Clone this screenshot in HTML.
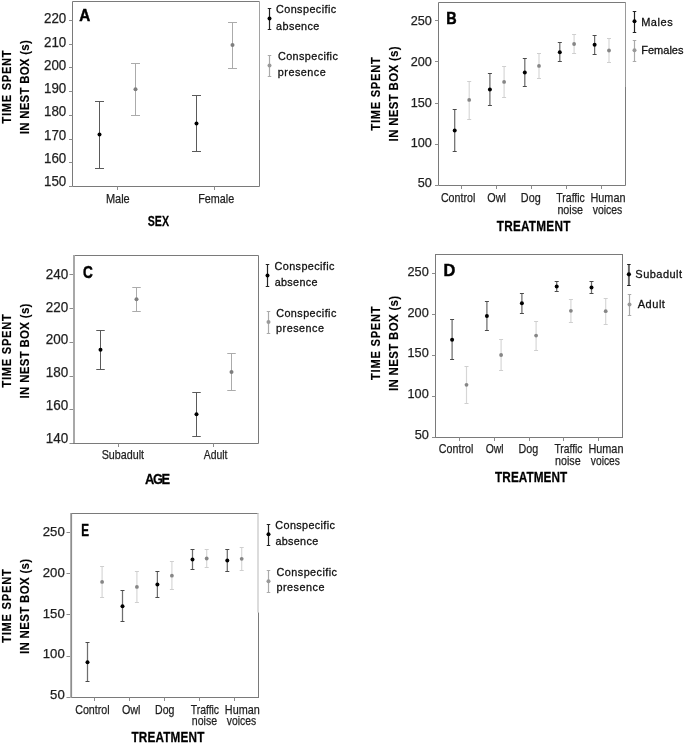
<!DOCTYPE html>
<html><head><meta charset="utf-8"><style>
html,body{margin:0;padding:0;background:#fff;}
svg{display:block;will-change:transform;}
text{font-family:"Liberation Sans", sans-serif;}

</style></head><body>
<svg width="685" height="744" viewBox="0 0 685 744">
<rect x="0" y="0" width="685" height="744" fill="#fff"/>
<polyline points="259.5,100 259.5,186.5 72.5,186.5 72.5,1.5 259.5,1.5" fill="none" stroke="#7a7a7a" stroke-width="1"/>
<line x1="259.50" y1="1.50" x2="259.50" y2="100.00" stroke="#a2a2a2" stroke-width="1"/>
<line x1="69.00" y1="186.50" x2="72.50" y2="186.50" stroke="#8c8c8c" stroke-width="1"/>
<line x1="69.00" y1="162.50" x2="72.50" y2="162.50" stroke="#8c8c8c" stroke-width="1"/>
<line x1="69.00" y1="139.50" x2="72.50" y2="139.50" stroke="#8c8c8c" stroke-width="1"/>
<line x1="69.00" y1="115.50" x2="72.50" y2="115.50" stroke="#8c8c8c" stroke-width="1"/>
<line x1="69.00" y1="91.50" x2="72.50" y2="91.50" stroke="#8c8c8c" stroke-width="1"/>
<line x1="69.00" y1="67.50" x2="72.50" y2="67.50" stroke="#8c8c8c" stroke-width="1"/>
<line x1="69.00" y1="44.50" x2="72.50" y2="44.50" stroke="#8c8c8c" stroke-width="1"/>
<line x1="69.00" y1="20.50" x2="72.50" y2="20.50" stroke="#8c8c8c" stroke-width="1"/>
<text x="44.03" y="23.40" font-size="14.0" fill="#1e1e1e" stroke="#1e1e1e" stroke-width="0.25" textLength="22.28" lengthAdjust="spacingAndGlyphs">220</text>
<text x="44.03" y="46.80" font-size="14.0" fill="#1e1e1e" stroke="#1e1e1e" stroke-width="0.25" textLength="22.28" lengthAdjust="spacingAndGlyphs">210</text>
<text x="44.03" y="70.10" font-size="14.0" fill="#1e1e1e" stroke="#1e1e1e" stroke-width="0.25" textLength="22.28" lengthAdjust="spacingAndGlyphs">200</text>
<text x="44.03" y="93.30" font-size="14.0" fill="#1e1e1e" stroke="#1e1e1e" stroke-width="0.25" textLength="22.28" lengthAdjust="spacingAndGlyphs">190</text>
<text x="44.03" y="116.40" font-size="14.0" fill="#1e1e1e" stroke="#1e1e1e" stroke-width="0.25" textLength="22.28" lengthAdjust="spacingAndGlyphs">180</text>
<text x="44.03" y="139.60" font-size="14.0" fill="#1e1e1e" stroke="#1e1e1e" stroke-width="0.25" textLength="22.28" lengthAdjust="spacingAndGlyphs">170</text>
<text x="44.03" y="162.90" font-size="14.0" fill="#1e1e1e" stroke="#1e1e1e" stroke-width="0.25" textLength="22.28" lengthAdjust="spacingAndGlyphs">160</text>
<text x="44.03" y="185.70" font-size="14.0" fill="#1e1e1e" stroke="#1e1e1e" stroke-width="0.25" textLength="22.28" lengthAdjust="spacingAndGlyphs">150</text>
<line x1="117.50" y1="186.50" x2="117.50" y2="190.00" stroke="#8c8c8c" stroke-width="1"/>
<line x1="214.50" y1="186.50" x2="214.50" y2="190.00" stroke="#8c8c8c" stroke-width="1"/>
<text x="105.92" y="202.50" font-size="12.6" font-weight="normal" fill="#1e1e1e" stroke="#1e1e1e" stroke-width="0.25" textLength="23.82" lengthAdjust="spacingAndGlyphs">Male</text>
<text x="198.13" y="202.50" font-size="12.6" font-weight="normal" fill="#1e1e1e" stroke="#1e1e1e" stroke-width="0.25" textLength="36.02" lengthAdjust="spacingAndGlyphs">Female</text>
<text transform="scale(0.76,1)" x="194.48" y="225.90" font-size="14.0" font-weight="bold" fill="#000" stroke="#000" stroke-width="0.25" textLength="27.97" lengthAdjust="spacing">SEX</text>
<text x="79.17" y="20.50" font-size="17.4" font-weight="bold" fill="#000" stroke="#000" stroke-width="0.5" textLength="10.99" lengthAdjust="spacingAndGlyphs">A</text>
<text transform="translate(10.50,0) rotate(-90) scale(0.86,1)" x="-143.76" y="0" font-size="13.0" font-weight="bold" fill="#000" stroke="#000" stroke-width="0.15" textLength="85.21" lengthAdjust="spacing">TIME SPENT</text>
<text transform="translate(28.50,0) rotate(-90) scale(0.86,1)" x="-156.16" y="0" font-size="13.3" font-weight="bold" fill="#000" stroke="#000" stroke-width="0.15" textLength="109.29" lengthAdjust="spacing">IN NEST BOX (s)</text>
<line x1="99.50" y1="101.50" x2="99.50" y2="168.50" stroke="#5a5a5a" stroke-width="1"/>
<line x1="95.00" y1="101.50" x2="104.00" y2="101.50" stroke="#5a5a5a" stroke-width="1"/>
<line x1="95.00" y1="168.50" x2="104.00" y2="168.50" stroke="#5a5a5a" stroke-width="1"/>
<circle cx="99.50" cy="134.50" r="2.0" fill="#000"/>
<line x1="196.50" y1="95.50" x2="196.50" y2="151.50" stroke="#5a5a5a" stroke-width="1"/>
<line x1="192.00" y1="95.50" x2="201.00" y2="95.50" stroke="#5a5a5a" stroke-width="1"/>
<line x1="192.00" y1="151.50" x2="201.00" y2="151.50" stroke="#5a5a5a" stroke-width="1"/>
<circle cx="196.50" cy="123.40" r="2.0" fill="#000"/>
<line x1="135.50" y1="63.50" x2="135.50" y2="115.50" stroke="#ababab" stroke-width="1"/>
<line x1="131.00" y1="63.50" x2="140.00" y2="63.50" stroke="#ababab" stroke-width="1"/>
<line x1="131.00" y1="115.50" x2="140.00" y2="115.50" stroke="#ababab" stroke-width="1"/>
<circle cx="135.50" cy="89.30" r="2.0" fill="#7e7e7e"/>
<line x1="232.50" y1="22.50" x2="232.50" y2="68.50" stroke="#ababab" stroke-width="1"/>
<line x1="228.00" y1="22.50" x2="237.00" y2="22.50" stroke="#ababab" stroke-width="1"/>
<line x1="228.00" y1="68.50" x2="237.00" y2="68.50" stroke="#ababab" stroke-width="1"/>
<circle cx="232.50" cy="45.10" r="2.0" fill="#7e7e7e"/>
<line x1="269.50" y1="8.50" x2="269.50" y2="29.50" stroke="#222" stroke-width="1.2"/>
<line x1="267.75" y1="8.50" x2="271.25" y2="8.50" stroke="#222" stroke-width="1"/>
<line x1="267.75" y1="29.50" x2="271.25" y2="29.50" stroke="#222" stroke-width="1"/>
<circle cx="269.50" cy="18.60" r="2.0" fill="#000"/>
<text transform="scale(0.95,1)" x="290.54" y="13.30" font-size="11.4" font-weight="normal" fill="#111" stroke="#111" stroke-width="0.3" textLength="63.29" lengthAdjust="spacing">Conspecific</text>
<text transform="scale(0.95,1)" x="290.62" y="29.60" font-size="11.4" font-weight="normal" fill="#111" stroke="#111" stroke-width="0.3" textLength="45.51" lengthAdjust="spacing">absence</text>
<line x1="269.50" y1="55.50" x2="269.50" y2="76.50" stroke="#aaa" stroke-width="1.2"/>
<line x1="267.75" y1="55.50" x2="271.25" y2="55.50" stroke="#aaa" stroke-width="1"/>
<line x1="267.75" y1="76.50" x2="271.25" y2="76.50" stroke="#aaa" stroke-width="1"/>
<circle cx="269.50" cy="65.40" r="2.0" fill="#999"/>
<text transform="scale(0.95,1)" x="292.64" y="59.90" font-size="11.4" font-weight="normal" fill="#111" stroke="#111" stroke-width="0.3" textLength="62.98" lengthAdjust="spacing">Conspecific</text>
<text transform="scale(0.95,1)" x="292.47" y="76.00" font-size="11.4" font-weight="normal" fill="#111" stroke="#111" stroke-width="0.3" textLength="50.40" lengthAdjust="spacing">presence</text>
<polyline points="625.5,87 625.5,185.5 438.5,185.5 438.5,2.5 625.5,2.5 625.5,87" fill="none" stroke="#7a7a7a" stroke-width="1"/>
<line x1="625.50" y1="2.50" x2="625.50" y2="87.00" stroke="#9a9a9a" stroke-width="1"/>
<line x1="435.00" y1="185.50" x2="438.50" y2="185.50" stroke="#8c8c8c" stroke-width="1"/>
<line x1="435.00" y1="144.50" x2="438.50" y2="144.50" stroke="#8c8c8c" stroke-width="1"/>
<line x1="435.00" y1="103.50" x2="438.50" y2="103.50" stroke="#8c8c8c" stroke-width="1"/>
<line x1="435.00" y1="61.50" x2="438.50" y2="61.50" stroke="#8c8c8c" stroke-width="1"/>
<line x1="435.00" y1="20.50" x2="438.50" y2="20.50" stroke="#8c8c8c" stroke-width="1"/>
<text x="410.67" y="24.70" font-size="13.0" fill="#1e1e1e" stroke="#1e1e1e" stroke-width="0.25" textLength="21.12" lengthAdjust="spacingAndGlyphs">250</text>
<text x="410.67" y="65.80" font-size="13.0" fill="#1e1e1e" stroke="#1e1e1e" stroke-width="0.25" textLength="21.12" lengthAdjust="spacingAndGlyphs">200</text>
<text x="410.67" y="106.60" font-size="13.0" fill="#1e1e1e" stroke="#1e1e1e" stroke-width="0.25" textLength="21.12" lengthAdjust="spacingAndGlyphs">150</text>
<text x="410.67" y="147.00" font-size="13.0" fill="#1e1e1e" stroke="#1e1e1e" stroke-width="0.25" textLength="21.12" lengthAdjust="spacingAndGlyphs">100</text>
<text x="417.72" y="187.40" font-size="13.0" fill="#1e1e1e" stroke="#1e1e1e" stroke-width="0.25" textLength="14.08" lengthAdjust="spacingAndGlyphs">50</text>
<line x1="461.50" y1="185.50" x2="461.50" y2="189.00" stroke="#8c8c8c" stroke-width="1"/>
<line x1="496.50" y1="185.50" x2="496.50" y2="189.00" stroke="#8c8c8c" stroke-width="1"/>
<line x1="531.50" y1="185.50" x2="531.50" y2="189.00" stroke="#8c8c8c" stroke-width="1"/>
<line x1="566.50" y1="185.50" x2="566.50" y2="189.00" stroke="#8c8c8c" stroke-width="1"/>
<line x1="601.50" y1="185.50" x2="601.50" y2="189.00" stroke="#8c8c8c" stroke-width="1"/>
<text x="440.89" y="202.40" font-size="12.6" font-weight="normal" fill="#1e1e1e" stroke="#1e1e1e" stroke-width="0.25" textLength="34.39" lengthAdjust="spacingAndGlyphs">Control</text>
<text x="487.31" y="202.40" font-size="12.6" font-weight="normal" fill="#1e1e1e" stroke="#1e1e1e" stroke-width="0.25" textLength="18.59" lengthAdjust="spacingAndGlyphs">Owl</text>
<text x="520.83" y="202.40" font-size="12.6" font-weight="normal" fill="#1e1e1e" stroke="#1e1e1e" stroke-width="0.25" textLength="19.84" lengthAdjust="spacingAndGlyphs">Dog</text>
<text x="556.29" y="202.00" font-size="12.6" font-weight="normal" fill="#1e1e1e" stroke="#1e1e1e" stroke-width="0.25" textLength="28.58" lengthAdjust="spacingAndGlyphs">Traffic</text>
<text x="557.40" y="213.50" font-size="12.6" font-weight="normal" fill="#1e1e1e" stroke="#1e1e1e" stroke-width="0.25" textLength="25.64" lengthAdjust="spacingAndGlyphs">noise</text>
<text x="590.53" y="202.00" font-size="12.6" font-weight="normal" fill="#1e1e1e" stroke="#1e1e1e" stroke-width="0.25" textLength="34.93" lengthAdjust="spacingAndGlyphs">Human</text>
<text x="592.70" y="213.50" font-size="12.6" font-weight="normal" fill="#1e1e1e" stroke="#1e1e1e" stroke-width="0.25" textLength="29.54" lengthAdjust="spacingAndGlyphs">voices</text>
<text transform="scale(0.84,1)" x="591.32" y="230.90" font-size="14.0" font-weight="bold" fill="#000" stroke="#000" stroke-width="0.25" textLength="87.63" lengthAdjust="spacing">TREATMENT</text>
<text x="446.18" y="24.10" font-size="17.4" font-weight="bold" fill="#000" stroke="#000" stroke-width="0.5" textLength="10.42" lengthAdjust="spacingAndGlyphs">B</text>
<text transform="translate(379.90,0) rotate(-90) scale(0.86,1)" x="-151.79" y="0" font-size="13.0" font-weight="bold" fill="#000" stroke="#000" stroke-width="0.15" textLength="85.21" lengthAdjust="spacing">TIME SPENT</text>
<text transform="translate(397.80,0) rotate(-90) scale(0.86,1)" x="-164.42" y="0" font-size="13.3" font-weight="bold" fill="#000" stroke="#000" stroke-width="0.15" textLength="110.46" lengthAdjust="spacing">IN NEST BOX (s)</text>
<line x1="454.70" y1="109.50" x2="454.70" y2="151.50" stroke="#6e6e6e" stroke-width="1.25"/>
<line x1="452.70" y1="109.50" x2="456.70" y2="109.50" stroke="#4a4a4a" stroke-width="1"/>
<line x1="452.70" y1="151.50" x2="456.70" y2="151.50" stroke="#4a4a4a" stroke-width="1"/>
<circle cx="454.70" cy="130.40" r="2.0" fill="#000"/>
<line x1="489.90" y1="73.50" x2="489.90" y2="105.50" stroke="#6e6e6e" stroke-width="1.25"/>
<line x1="487.90" y1="73.50" x2="491.90" y2="73.50" stroke="#4a4a4a" stroke-width="1"/>
<line x1="487.90" y1="105.50" x2="491.90" y2="105.50" stroke="#4a4a4a" stroke-width="1"/>
<circle cx="489.90" cy="89.60" r="2.0" fill="#000"/>
<line x1="524.80" y1="58.50" x2="524.80" y2="86.50" stroke="#6e6e6e" stroke-width="1.25"/>
<line x1="522.80" y1="58.50" x2="526.80" y2="58.50" stroke="#4a4a4a" stroke-width="1"/>
<line x1="522.80" y1="86.50" x2="526.80" y2="86.50" stroke="#4a4a4a" stroke-width="1"/>
<circle cx="524.80" cy="72.40" r="2.0" fill="#000"/>
<line x1="559.80" y1="42.50" x2="559.80" y2="61.50" stroke="#6e6e6e" stroke-width="1.25"/>
<line x1="557.80" y1="42.50" x2="561.80" y2="42.50" stroke="#4a4a4a" stroke-width="1"/>
<line x1="557.80" y1="61.50" x2="561.80" y2="61.50" stroke="#4a4a4a" stroke-width="1"/>
<circle cx="559.80" cy="52.20" r="2.0" fill="#000"/>
<line x1="594.60" y1="35.50" x2="594.60" y2="54.50" stroke="#6e6e6e" stroke-width="1.25"/>
<line x1="592.60" y1="35.50" x2="596.60" y2="35.50" stroke="#4a4a4a" stroke-width="1"/>
<line x1="592.60" y1="54.50" x2="596.60" y2="54.50" stroke="#4a4a4a" stroke-width="1"/>
<circle cx="594.60" cy="44.70" r="2.0" fill="#000"/>
<line x1="469.20" y1="81.50" x2="469.20" y2="119.50" stroke="#d6d6d6" stroke-width="1.15"/>
<line x1="467.20" y1="81.50" x2="471.20" y2="81.50" stroke="#cfcfcf" stroke-width="1"/>
<line x1="467.20" y1="119.50" x2="471.20" y2="119.50" stroke="#cfcfcf" stroke-width="1"/>
<circle cx="469.20" cy="99.90" r="1.9" fill="#868686"/>
<line x1="504.10" y1="66.50" x2="504.10" y2="97.50" stroke="#d6d6d6" stroke-width="1.15"/>
<line x1="502.10" y1="66.50" x2="506.10" y2="66.50" stroke="#cfcfcf" stroke-width="1"/>
<line x1="502.10" y1="97.50" x2="506.10" y2="97.50" stroke="#cfcfcf" stroke-width="1"/>
<circle cx="504.10" cy="81.90" r="1.9" fill="#868686"/>
<line x1="539.00" y1="53.50" x2="539.00" y2="78.50" stroke="#d6d6d6" stroke-width="1.15"/>
<line x1="537.00" y1="53.50" x2="541.00" y2="53.50" stroke="#cfcfcf" stroke-width="1"/>
<line x1="537.00" y1="78.50" x2="541.00" y2="78.50" stroke="#cfcfcf" stroke-width="1"/>
<circle cx="539.00" cy="65.90" r="1.9" fill="#868686"/>
<line x1="574.10" y1="34.50" x2="574.10" y2="53.50" stroke="#d6d6d6" stroke-width="1.15"/>
<line x1="572.10" y1="34.50" x2="576.10" y2="34.50" stroke="#cfcfcf" stroke-width="1"/>
<line x1="572.10" y1="53.50" x2="576.10" y2="53.50" stroke="#cfcfcf" stroke-width="1"/>
<circle cx="574.10" cy="44.00" r="1.9" fill="#868686"/>
<line x1="609.00" y1="38.50" x2="609.00" y2="62.50" stroke="#d6d6d6" stroke-width="1.15"/>
<line x1="607.00" y1="38.50" x2="611.00" y2="38.50" stroke="#cfcfcf" stroke-width="1"/>
<line x1="607.00" y1="62.50" x2="611.00" y2="62.50" stroke="#cfcfcf" stroke-width="1"/>
<circle cx="609.00" cy="50.50" r="1.9" fill="#868686"/>
<line x1="634.50" y1="11.50" x2="634.50" y2="32.50" stroke="#222" stroke-width="1.2"/>
<line x1="632.75" y1="11.50" x2="636.25" y2="11.50" stroke="#222" stroke-width="1"/>
<line x1="632.75" y1="32.50" x2="636.25" y2="32.50" stroke="#222" stroke-width="1"/>
<circle cx="634.50" cy="21.30" r="2.0" fill="#000"/>
<text transform="scale(0.95,1)" x="674.89" y="25.60" font-size="11.6" font-weight="normal" fill="#111" stroke="#111" stroke-width="0.3" textLength="33.15" lengthAdjust="spacing">Males</text>
<line x1="634.50" y1="40.50" x2="634.50" y2="61.50" stroke="#aaa" stroke-width="1.2"/>
<line x1="632.75" y1="40.50" x2="636.25" y2="40.50" stroke="#aaa" stroke-width="1"/>
<line x1="632.75" y1="61.50" x2="636.25" y2="61.50" stroke="#aaa" stroke-width="1"/>
<circle cx="634.50" cy="50.30" r="2.0" fill="#999"/>
<text transform="scale(0.95,1)" x="674.89" y="54.10" font-size="11.6" font-weight="normal" fill="#111" stroke="#111" stroke-width="0.3" textLength="44.62" lengthAdjust="spacing">Females</text>
<polyline points="73,255.5 258.5,255.5 258.5,443.5 73,443.5" fill="none" stroke="#7a7a7a" stroke-width="1"/>
<line x1="74.00" y1="255.00" x2="74.00" y2="443.00" stroke="#a8a8a8" stroke-width="2"/>
<line x1="69.50" y1="443.50" x2="73.00" y2="443.50" stroke="#8c8c8c" stroke-width="1"/>
<line x1="69.50" y1="409.50" x2="73.00" y2="409.50" stroke="#8c8c8c" stroke-width="1"/>
<line x1="69.50" y1="376.50" x2="73.00" y2="376.50" stroke="#8c8c8c" stroke-width="1"/>
<line x1="69.50" y1="342.50" x2="73.00" y2="342.50" stroke="#8c8c8c" stroke-width="1"/>
<line x1="69.50" y1="308.50" x2="73.00" y2="308.50" stroke="#8c8c8c" stroke-width="1"/>
<line x1="69.50" y1="274.50" x2="73.00" y2="274.50" stroke="#8c8c8c" stroke-width="1"/>
<text x="45.73" y="278.70" font-size="13.8" fill="#1e1e1e" stroke="#1e1e1e" stroke-width="0.25" textLength="22.49" lengthAdjust="spacingAndGlyphs">240</text>
<text x="45.73" y="311.60" font-size="13.8" fill="#1e1e1e" stroke="#1e1e1e" stroke-width="0.25" textLength="22.49" lengthAdjust="spacingAndGlyphs">220</text>
<text x="45.73" y="344.30" font-size="13.8" fill="#1e1e1e" stroke="#1e1e1e" stroke-width="0.25" textLength="22.49" lengthAdjust="spacingAndGlyphs">200</text>
<text x="45.73" y="377.40" font-size="13.8" fill="#1e1e1e" stroke="#1e1e1e" stroke-width="0.25" textLength="22.49" lengthAdjust="spacingAndGlyphs">180</text>
<text x="45.73" y="410.40" font-size="13.8" fill="#1e1e1e" stroke="#1e1e1e" stroke-width="0.25" textLength="22.49" lengthAdjust="spacingAndGlyphs">160</text>
<text x="45.73" y="443.30" font-size="13.8" fill="#1e1e1e" stroke="#1e1e1e" stroke-width="0.25" textLength="22.49" lengthAdjust="spacingAndGlyphs">140</text>
<line x1="118.50" y1="443.50" x2="118.50" y2="447.00" stroke="#8c8c8c" stroke-width="1"/>
<line x1="213.50" y1="443.50" x2="213.50" y2="447.00" stroke="#8c8c8c" stroke-width="1"/>
<text x="101.64" y="459.30" font-size="12.6" font-weight="normal" fill="#1e1e1e" stroke="#1e1e1e" stroke-width="0.25" textLength="42.42" lengthAdjust="spacingAndGlyphs">Subadult</text>
<text x="203.70" y="459.30" font-size="12.6" font-weight="normal" fill="#1e1e1e" stroke="#1e1e1e" stroke-width="0.25" textLength="23.75" lengthAdjust="spacingAndGlyphs">Adult</text>
<text transform="scale(0.92,1)" x="157.61" y="484.00" font-size="14.0" font-weight="bold" fill="#000" stroke="#000" stroke-width="0.25" textLength="27.37" lengthAdjust="spacing">AGE</text>
<text x="83.11" y="278.10" font-size="17.4" font-weight="bold" fill="#000" stroke="#000" stroke-width="0.5" textLength="9.81" lengthAdjust="spacingAndGlyphs">C</text>
<text transform="translate(10.50,0) rotate(-90) scale(0.86,1)" x="-450.62" y="0" font-size="13.0" font-weight="bold" fill="#000" stroke="#000" stroke-width="0.15" textLength="85.21" lengthAdjust="spacing">TIME SPENT</text>
<text transform="translate(28.50,0) rotate(-90) scale(0.86,1)" x="-463.37" y="0" font-size="13.3" font-weight="bold" fill="#000" stroke="#000" stroke-width="0.15" textLength="110.34" lengthAdjust="spacing">IN NEST BOX (s)</text>
<line x1="100.50" y1="330.50" x2="100.50" y2="369.50" stroke="#5a5a5a" stroke-width="1"/>
<line x1="96.25" y1="330.50" x2="104.75" y2="330.50" stroke="#5a5a5a" stroke-width="1"/>
<line x1="96.25" y1="369.50" x2="104.75" y2="369.50" stroke="#5a5a5a" stroke-width="1"/>
<circle cx="100.50" cy="349.80" r="2.0" fill="#000"/>
<line x1="196.50" y1="392.50" x2="196.50" y2="436.50" stroke="#5a5a5a" stroke-width="1"/>
<line x1="192.25" y1="392.50" x2="200.75" y2="392.50" stroke="#5a5a5a" stroke-width="1"/>
<line x1="192.25" y1="436.50" x2="200.75" y2="436.50" stroke="#5a5a5a" stroke-width="1"/>
<circle cx="196.50" cy="414.30" r="2.0" fill="#000"/>
<line x1="136.50" y1="287.50" x2="136.50" y2="311.50" stroke="#ababab" stroke-width="1"/>
<line x1="132.25" y1="287.50" x2="140.75" y2="287.50" stroke="#ababab" stroke-width="1"/>
<line x1="132.25" y1="311.50" x2="140.75" y2="311.50" stroke="#ababab" stroke-width="1"/>
<circle cx="136.50" cy="299.20" r="2.0" fill="#7e7e7e"/>
<line x1="231.50" y1="353.50" x2="231.50" y2="390.50" stroke="#ababab" stroke-width="1"/>
<line x1="227.25" y1="353.50" x2="235.75" y2="353.50" stroke="#ababab" stroke-width="1"/>
<line x1="227.25" y1="390.50" x2="235.75" y2="390.50" stroke="#ababab" stroke-width="1"/>
<circle cx="231.50" cy="372.00" r="2.0" fill="#7e7e7e"/>
<line x1="267.50" y1="264.50" x2="267.50" y2="286.50" stroke="#222" stroke-width="1.2"/>
<line x1="265.75" y1="264.50" x2="269.25" y2="264.50" stroke="#222" stroke-width="1"/>
<line x1="265.75" y1="286.50" x2="269.25" y2="286.50" stroke="#222" stroke-width="1"/>
<circle cx="267.50" cy="275.40" r="2.0" fill="#000"/>
<text transform="scale(0.95,1)" x="289.06" y="269.90" font-size="11.4" font-weight="normal" fill="#111" stroke="#111" stroke-width="0.3" textLength="62.87" lengthAdjust="spacing">Conspecific</text>
<text transform="scale(0.95,1)" x="289.15" y="286.00" font-size="11.4" font-weight="normal" fill="#111" stroke="#111" stroke-width="0.3" textLength="45.08" lengthAdjust="spacing">absence</text>
<line x1="268.50" y1="311.50" x2="268.50" y2="333.50" stroke="#aaa" stroke-width="1.2"/>
<line x1="266.75" y1="311.50" x2="270.25" y2="311.50" stroke="#aaa" stroke-width="1"/>
<line x1="266.75" y1="333.50" x2="270.25" y2="333.50" stroke="#aaa" stroke-width="1"/>
<circle cx="268.50" cy="322.00" r="2.0" fill="#999"/>
<text transform="scale(0.95,1)" x="290.75" y="316.60" font-size="11.4" font-weight="normal" fill="#111" stroke="#111" stroke-width="0.3" textLength="63.29" lengthAdjust="spacing">Conspecific</text>
<text transform="scale(0.95,1)" x="290.57" y="332.20" font-size="11.4" font-weight="normal" fill="#111" stroke="#111" stroke-width="0.3" textLength="50.50" lengthAdjust="spacing">presence</text>
<rect x="435.5" y="254.5" width="187" height="183" fill="none" stroke="#7a7a7a" stroke-width="1"/>
<line x1="432.00" y1="437.50" x2="435.50" y2="437.50" stroke="#8c8c8c" stroke-width="1"/>
<line x1="432.00" y1="396.50" x2="435.50" y2="396.50" stroke="#8c8c8c" stroke-width="1"/>
<line x1="432.00" y1="355.50" x2="435.50" y2="355.50" stroke="#8c8c8c" stroke-width="1"/>
<line x1="432.00" y1="314.50" x2="435.50" y2="314.50" stroke="#8c8c8c" stroke-width="1"/>
<line x1="432.00" y1="273.50" x2="435.50" y2="273.50" stroke="#8c8c8c" stroke-width="1"/>
<text x="407.56" y="275.90" font-size="12.8" fill="#1e1e1e" stroke="#1e1e1e" stroke-width="0.25" textLength="21.23" lengthAdjust="spacingAndGlyphs">250</text>
<text x="407.56" y="316.90" font-size="12.8" fill="#1e1e1e" stroke="#1e1e1e" stroke-width="0.25" textLength="21.23" lengthAdjust="spacingAndGlyphs">200</text>
<text x="407.56" y="357.40" font-size="12.8" fill="#1e1e1e" stroke="#1e1e1e" stroke-width="0.25" textLength="21.23" lengthAdjust="spacingAndGlyphs">150</text>
<text x="407.56" y="398.10" font-size="12.8" fill="#1e1e1e" stroke="#1e1e1e" stroke-width="0.25" textLength="21.23" lengthAdjust="spacingAndGlyphs">100</text>
<text x="414.66" y="439.00" font-size="12.8" fill="#1e1e1e" stroke="#1e1e1e" stroke-width="0.25" textLength="14.15" lengthAdjust="spacingAndGlyphs">50</text>
<line x1="459.50" y1="437.50" x2="459.50" y2="441.00" stroke="#8c8c8c" stroke-width="1"/>
<line x1="494.50" y1="437.50" x2="494.50" y2="441.00" stroke="#8c8c8c" stroke-width="1"/>
<line x1="529.50" y1="437.50" x2="529.50" y2="441.00" stroke="#8c8c8c" stroke-width="1"/>
<line x1="563.50" y1="437.50" x2="563.50" y2="441.00" stroke="#8c8c8c" stroke-width="1"/>
<line x1="598.50" y1="437.50" x2="598.50" y2="441.00" stroke="#8c8c8c" stroke-width="1"/>
<text x="438.79" y="453.40" font-size="12.6" font-weight="normal" fill="#1e1e1e" stroke="#1e1e1e" stroke-width="0.25" textLength="34.49" lengthAdjust="spacingAndGlyphs">Control</text>
<text x="485.73" y="453.20" font-size="12.6" font-weight="normal" fill="#1e1e1e" stroke="#1e1e1e" stroke-width="0.25" textLength="17.84" lengthAdjust="spacingAndGlyphs">Owl</text>
<text x="518.44" y="453.20" font-size="12.6" font-weight="normal" fill="#1e1e1e" stroke="#1e1e1e" stroke-width="0.25" textLength="19.73" lengthAdjust="spacingAndGlyphs">Dog</text>
<text x="554.39" y="453.20" font-size="12.6" font-weight="normal" fill="#1e1e1e" stroke="#1e1e1e" stroke-width="0.25" textLength="28.07" lengthAdjust="spacingAndGlyphs">Traffic</text>
<text x="555.00" y="464.50" font-size="12.6" font-weight="normal" fill="#1e1e1e" stroke="#1e1e1e" stroke-width="0.25" textLength="25.64" lengthAdjust="spacingAndGlyphs">noise</text>
<text x="588.43" y="453.20" font-size="12.6" font-weight="normal" fill="#1e1e1e" stroke="#1e1e1e" stroke-width="0.25" textLength="35.04" lengthAdjust="spacingAndGlyphs">Human</text>
<text x="590.80" y="464.50" font-size="12.6" font-weight="normal" fill="#1e1e1e" stroke="#1e1e1e" stroke-width="0.25" textLength="29.13" lengthAdjust="spacingAndGlyphs">voices</text>
<text transform="scale(0.84,1)" x="589.41" y="482.20" font-size="14.0" font-weight="bold" fill="#000" stroke="#000" stroke-width="0.25" textLength="85.84" lengthAdjust="spacing">TREATMENT</text>
<text x="443.55" y="276.20" font-size="17.4" font-weight="bold" fill="#000" stroke="#000" stroke-width="0.5" textLength="11.79" lengthAdjust="spacingAndGlyphs">D</text>
<text transform="translate(379.90,0) rotate(-90) scale(0.86,1)" x="-441.79" y="0" font-size="13.0" font-weight="bold" fill="#000" stroke="#000" stroke-width="0.15" textLength="85.56" lengthAdjust="spacing">TIME SPENT</text>
<text transform="translate(397.80,0) rotate(-90) scale(0.86,1)" x="-454.76" y="0" font-size="13.3" font-weight="bold" fill="#000" stroke="#000" stroke-width="0.15" textLength="110.69" lengthAdjust="spacing">IN NEST BOX (s)</text>
<line x1="452.10" y1="319.50" x2="452.10" y2="359.50" stroke="#6e6e6e" stroke-width="1.25"/>
<line x1="450.10" y1="319.50" x2="454.10" y2="319.50" stroke="#4a4a4a" stroke-width="1"/>
<line x1="450.10" y1="359.50" x2="454.10" y2="359.50" stroke="#4a4a4a" stroke-width="1"/>
<circle cx="452.10" cy="339.70" r="2.0" fill="#000"/>
<line x1="486.90" y1="301.50" x2="486.90" y2="330.50" stroke="#6e6e6e" stroke-width="1.25"/>
<line x1="484.90" y1="301.50" x2="488.90" y2="301.50" stroke="#4a4a4a" stroke-width="1"/>
<line x1="484.90" y1="330.50" x2="488.90" y2="330.50" stroke="#4a4a4a" stroke-width="1"/>
<circle cx="486.90" cy="316.10" r="2.0" fill="#000"/>
<line x1="521.90" y1="293.50" x2="521.90" y2="313.50" stroke="#6e6e6e" stroke-width="1.25"/>
<line x1="519.90" y1="293.50" x2="523.90" y2="293.50" stroke="#4a4a4a" stroke-width="1"/>
<line x1="519.90" y1="313.50" x2="523.90" y2="313.50" stroke="#4a4a4a" stroke-width="1"/>
<circle cx="521.90" cy="303.20" r="2.0" fill="#000"/>
<line x1="556.70" y1="281.50" x2="556.70" y2="291.50" stroke="#6e6e6e" stroke-width="1.25"/>
<line x1="554.70" y1="281.50" x2="558.70" y2="281.50" stroke="#4a4a4a" stroke-width="1"/>
<line x1="554.70" y1="291.50" x2="558.70" y2="291.50" stroke="#4a4a4a" stroke-width="1"/>
<circle cx="556.70" cy="286.50" r="2.0" fill="#000"/>
<line x1="591.50" y1="281.50" x2="591.50" y2="293.50" stroke="#6e6e6e" stroke-width="1.25"/>
<line x1="589.50" y1="281.50" x2="593.50" y2="281.50" stroke="#4a4a4a" stroke-width="1"/>
<line x1="589.50" y1="293.50" x2="593.50" y2="293.50" stroke="#4a4a4a" stroke-width="1"/>
<circle cx="591.50" cy="287.40" r="2.0" fill="#000"/>
<line x1="466.50" y1="366.50" x2="466.50" y2="403.50" stroke="#d6d6d6" stroke-width="1.15"/>
<line x1="464.50" y1="366.50" x2="468.50" y2="366.50" stroke="#cfcfcf" stroke-width="1"/>
<line x1="464.50" y1="403.50" x2="468.50" y2="403.50" stroke="#cfcfcf" stroke-width="1"/>
<circle cx="466.50" cy="384.80" r="1.9" fill="#868686"/>
<line x1="501.10" y1="339.50" x2="501.10" y2="370.50" stroke="#d6d6d6" stroke-width="1.15"/>
<line x1="499.10" y1="339.50" x2="503.10" y2="339.50" stroke="#cfcfcf" stroke-width="1"/>
<line x1="499.10" y1="370.50" x2="503.10" y2="370.50" stroke="#cfcfcf" stroke-width="1"/>
<circle cx="501.10" cy="355.00" r="1.9" fill="#868686"/>
<line x1="536.10" y1="321.50" x2="536.10" y2="350.50" stroke="#d6d6d6" stroke-width="1.15"/>
<line x1="534.10" y1="321.50" x2="538.10" y2="321.50" stroke="#cfcfcf" stroke-width="1"/>
<line x1="534.10" y1="350.50" x2="538.10" y2="350.50" stroke="#cfcfcf" stroke-width="1"/>
<circle cx="536.10" cy="335.60" r="1.9" fill="#868686"/>
<line x1="570.90" y1="299.50" x2="570.90" y2="322.50" stroke="#d6d6d6" stroke-width="1.15"/>
<line x1="568.90" y1="299.50" x2="572.90" y2="299.50" stroke="#cfcfcf" stroke-width="1"/>
<line x1="568.90" y1="322.50" x2="572.90" y2="322.50" stroke="#cfcfcf" stroke-width="1"/>
<circle cx="570.90" cy="310.80" r="1.9" fill="#868686"/>
<line x1="605.70" y1="298.50" x2="605.70" y2="324.50" stroke="#d6d6d6" stroke-width="1.15"/>
<line x1="603.70" y1="298.50" x2="607.70" y2="298.50" stroke="#cfcfcf" stroke-width="1"/>
<line x1="603.70" y1="324.50" x2="607.70" y2="324.50" stroke="#cfcfcf" stroke-width="1"/>
<circle cx="605.70" cy="311.20" r="1.9" fill="#868686"/>
<line x1="628.90" y1="264.50" x2="628.90" y2="285.50" stroke="#6a6a6a" stroke-width="2"/>
<line x1="627.15" y1="264.50" x2="630.65" y2="264.50" stroke="#222" stroke-width="1"/>
<line x1="627.15" y1="285.50" x2="630.65" y2="285.50" stroke="#222" stroke-width="1"/>
<circle cx="628.90" cy="274.30" r="2.1" fill="#000"/>
<text transform="scale(0.95,1)" x="668.79" y="278.10" font-size="11.6" font-weight="normal" fill="#111" stroke="#111" stroke-width="0.3" textLength="49.14" lengthAdjust="spacing">Subadult</text>
<line x1="629.50" y1="294.50" x2="629.50" y2="315.50" stroke="#aaa" stroke-width="1.2"/>
<line x1="627.75" y1="294.50" x2="631.25" y2="294.50" stroke="#aaa" stroke-width="1"/>
<line x1="627.75" y1="315.50" x2="631.25" y2="315.50" stroke="#aaa" stroke-width="1"/>
<circle cx="629.50" cy="304.60" r="2.0" fill="#999"/>
<text transform="scale(0.95,1)" x="671.29" y="307.90" font-size="11.6" font-weight="normal" fill="#111" stroke="#111" stroke-width="0.3" textLength="28.64" lengthAdjust="spacing">Adult</text>
<line x1="72.00" y1="697.50" x2="259.00" y2="697.50" stroke="#7a7a7a" stroke-width="1"/>
<polyline points="72,513.5 258.5,513.5" fill="none" stroke="#7a7a7a" stroke-width="1"/>
<line x1="71.20" y1="513.00" x2="71.20" y2="698.00" stroke="#8e8e8e" stroke-width="1.8"/>
<line x1="258.00" y1="513.50" x2="258.00" y2="612.50" stroke="#dcdcdc" stroke-width="2"/>
<line x1="258.50" y1="612.50" x2="258.50" y2="697.50" stroke="#7a7a7a" stroke-width="1"/>
<line x1="66.50" y1="697.50" x2="70.00" y2="697.50" stroke="#8c8c8c" stroke-width="1"/>
<line x1="66.50" y1="656.50" x2="70.00" y2="656.50" stroke="#8c8c8c" stroke-width="1"/>
<line x1="66.50" y1="614.50" x2="70.00" y2="614.50" stroke="#8c8c8c" stroke-width="1"/>
<line x1="66.50" y1="573.50" x2="70.00" y2="573.50" stroke="#8c8c8c" stroke-width="1"/>
<line x1="66.50" y1="532.50" x2="70.00" y2="532.50" stroke="#8c8c8c" stroke-width="1"/>
<text x="42.74" y="536.00" font-size="12.8" fill="#1e1e1e" stroke="#1e1e1e" stroke-width="0.25" textLength="21.97" lengthAdjust="spacingAndGlyphs">250</text>
<text x="42.74" y="577.00" font-size="12.8" fill="#1e1e1e" stroke="#1e1e1e" stroke-width="0.25" textLength="21.97" lengthAdjust="spacingAndGlyphs">200</text>
<text x="42.74" y="617.50" font-size="12.8" fill="#1e1e1e" stroke="#1e1e1e" stroke-width="0.25" textLength="21.97" lengthAdjust="spacingAndGlyphs">150</text>
<text x="42.74" y="658.10" font-size="12.8" fill="#1e1e1e" stroke="#1e1e1e" stroke-width="0.25" textLength="21.97" lengthAdjust="spacingAndGlyphs">100</text>
<text x="50.08" y="698.80" font-size="12.8" fill="#1e1e1e" stroke="#1e1e1e" stroke-width="0.25" textLength="14.64" lengthAdjust="spacingAndGlyphs">50</text>
<line x1="94.50" y1="697.50" x2="94.50" y2="701.00" stroke="#8c8c8c" stroke-width="1"/>
<line x1="129.50" y1="697.50" x2="129.50" y2="701.00" stroke="#8c8c8c" stroke-width="1"/>
<line x1="164.50" y1="697.50" x2="164.50" y2="701.00" stroke="#8c8c8c" stroke-width="1"/>
<line x1="199.50" y1="697.50" x2="199.50" y2="701.00" stroke="#8c8c8c" stroke-width="1"/>
<line x1="234.50" y1="697.50" x2="234.50" y2="701.00" stroke="#8c8c8c" stroke-width="1"/>
<text x="75.19" y="714.00" font-size="12.6" font-weight="normal" fill="#1e1e1e" stroke="#1e1e1e" stroke-width="0.25" textLength="34.49" lengthAdjust="spacingAndGlyphs">Control</text>
<text x="121.91" y="713.90" font-size="12.6" font-weight="normal" fill="#1e1e1e" stroke="#1e1e1e" stroke-width="0.25" textLength="18.59" lengthAdjust="spacingAndGlyphs">Owl</text>
<text x="155.05" y="713.90" font-size="12.6" font-weight="normal" fill="#1e1e1e" stroke="#1e1e1e" stroke-width="0.25" textLength="19.41" lengthAdjust="spacingAndGlyphs">Dog</text>
<text x="190.69" y="713.70" font-size="12.6" font-weight="normal" fill="#1e1e1e" stroke="#1e1e1e" stroke-width="0.25" textLength="28.37" lengthAdjust="spacingAndGlyphs">Traffic</text>
<text x="191.81" y="725.00" font-size="12.6" font-weight="normal" fill="#1e1e1e" stroke="#1e1e1e" stroke-width="0.25" textLength="25.22" lengthAdjust="spacingAndGlyphs">noise</text>
<text x="224.83" y="713.70" font-size="12.6" font-weight="normal" fill="#1e1e1e" stroke="#1e1e1e" stroke-width="0.25" textLength="34.93" lengthAdjust="spacingAndGlyphs">Human</text>
<text x="226.80" y="725.00" font-size="12.6" font-weight="normal" fill="#1e1e1e" stroke="#1e1e1e" stroke-width="0.25" textLength="29.33" lengthAdjust="spacingAndGlyphs">voices</text>
<text transform="scale(0.84,1)" x="156.56" y="742.20" font-size="14.0" font-weight="bold" fill="#000" stroke="#000" stroke-width="0.25" textLength="86.68" lengthAdjust="spacing">TREATMENT</text>
<text x="81.17" y="535.80" font-size="17.4" font-weight="bold" fill="#000" stroke="#000" stroke-width="0.5" textLength="7.74" lengthAdjust="spacingAndGlyphs">E</text>
<text transform="translate(10.50,0) rotate(-90) scale(0.86,1)" x="-747.48" y="0" font-size="13.0" font-weight="bold" fill="#000" stroke="#000" stroke-width="0.15" textLength="85.56" lengthAdjust="spacing">TIME SPENT</text>
<text transform="translate(28.50,0) rotate(-90) scale(0.86,1)" x="-760.58" y="0" font-size="13.3" font-weight="bold" fill="#000" stroke="#000" stroke-width="0.15" textLength="110.69" lengthAdjust="spacing">IN NEST BOX (s)</text>
<line x1="87.50" y1="642.50" x2="87.50" y2="681.50" stroke="#6e6e6e" stroke-width="1.25"/>
<line x1="85.50" y1="642.50" x2="89.50" y2="642.50" stroke="#4a4a4a" stroke-width="1"/>
<line x1="85.50" y1="681.50" x2="89.50" y2="681.50" stroke="#4a4a4a" stroke-width="1"/>
<circle cx="87.50" cy="662.20" r="2.0" fill="#000"/>
<line x1="122.50" y1="590.50" x2="122.50" y2="621.50" stroke="#6e6e6e" stroke-width="1.25"/>
<line x1="120.50" y1="590.50" x2="124.50" y2="590.50" stroke="#4a4a4a" stroke-width="1"/>
<line x1="120.50" y1="621.50" x2="124.50" y2="621.50" stroke="#4a4a4a" stroke-width="1"/>
<circle cx="122.50" cy="606.30" r="2.0" fill="#000"/>
<line x1="157.40" y1="571.50" x2="157.40" y2="597.50" stroke="#6e6e6e" stroke-width="1.25"/>
<line x1="155.40" y1="571.50" x2="159.40" y2="571.50" stroke="#4a4a4a" stroke-width="1"/>
<line x1="155.40" y1="597.50" x2="159.40" y2="597.50" stroke="#4a4a4a" stroke-width="1"/>
<circle cx="157.40" cy="584.50" r="2.0" fill="#000"/>
<line x1="192.50" y1="549.50" x2="192.50" y2="569.50" stroke="#6e6e6e" stroke-width="1.25"/>
<line x1="190.50" y1="549.50" x2="194.50" y2="549.50" stroke="#4a4a4a" stroke-width="1"/>
<line x1="190.50" y1="569.50" x2="194.50" y2="569.50" stroke="#4a4a4a" stroke-width="1"/>
<circle cx="192.50" cy="559.40" r="2.0" fill="#000"/>
<line x1="227.30" y1="549.50" x2="227.30" y2="571.50" stroke="#6e6e6e" stroke-width="1.25"/>
<line x1="225.30" y1="549.50" x2="229.30" y2="549.50" stroke="#4a4a4a" stroke-width="1"/>
<line x1="225.30" y1="571.50" x2="229.30" y2="571.50" stroke="#4a4a4a" stroke-width="1"/>
<circle cx="227.30" cy="560.40" r="2.0" fill="#000"/>
<line x1="102.10" y1="566.50" x2="102.10" y2="597.50" stroke="#d6d6d6" stroke-width="1.15"/>
<line x1="100.10" y1="566.50" x2="104.10" y2="566.50" stroke="#cfcfcf" stroke-width="1"/>
<line x1="100.10" y1="597.50" x2="104.10" y2="597.50" stroke="#cfcfcf" stroke-width="1"/>
<circle cx="102.10" cy="581.90" r="1.9" fill="#868686"/>
<line x1="136.90" y1="571.50" x2="136.90" y2="602.50" stroke="#d6d6d6" stroke-width="1.15"/>
<line x1="134.90" y1="571.50" x2="138.90" y2="571.50" stroke="#cfcfcf" stroke-width="1"/>
<line x1="134.90" y1="602.50" x2="138.90" y2="602.50" stroke="#cfcfcf" stroke-width="1"/>
<circle cx="136.90" cy="586.90" r="1.9" fill="#868686"/>
<line x1="171.90" y1="561.50" x2="171.90" y2="589.50" stroke="#d6d6d6" stroke-width="1.15"/>
<line x1="169.90" y1="561.50" x2="173.90" y2="561.50" stroke="#cfcfcf" stroke-width="1"/>
<line x1="169.90" y1="589.50" x2="173.90" y2="589.50" stroke="#cfcfcf" stroke-width="1"/>
<circle cx="171.90" cy="575.70" r="1.9" fill="#868686"/>
<line x1="206.70" y1="549.50" x2="206.70" y2="567.50" stroke="#d6d6d6" stroke-width="1.15"/>
<line x1="204.70" y1="549.50" x2="208.70" y2="549.50" stroke="#cfcfcf" stroke-width="1"/>
<line x1="204.70" y1="567.50" x2="208.70" y2="567.50" stroke="#cfcfcf" stroke-width="1"/>
<circle cx="206.70" cy="558.50" r="1.9" fill="#868686"/>
<line x1="241.70" y1="547.50" x2="241.70" y2="570.50" stroke="#d6d6d6" stroke-width="1.15"/>
<line x1="239.70" y1="547.50" x2="243.70" y2="547.50" stroke="#cfcfcf" stroke-width="1"/>
<line x1="239.70" y1="570.50" x2="243.70" y2="570.50" stroke="#cfcfcf" stroke-width="1"/>
<circle cx="241.70" cy="558.80" r="1.9" fill="#868686"/>
<line x1="268.50" y1="524.50" x2="268.50" y2="545.50" stroke="#222" stroke-width="1.2"/>
<line x1="266.75" y1="524.50" x2="270.25" y2="524.50" stroke="#222" stroke-width="1"/>
<line x1="266.75" y1="545.50" x2="270.25" y2="545.50" stroke="#222" stroke-width="1"/>
<circle cx="268.50" cy="534.30" r="2.0" fill="#000"/>
<text transform="scale(0.95,1)" x="289.80" y="529.20" font-size="11.4" font-weight="normal" fill="#111" stroke="#111" stroke-width="0.3" textLength="62.77" lengthAdjust="spacing">Conspecific</text>
<text transform="scale(0.95,1)" x="289.88" y="545.30" font-size="11.4" font-weight="normal" fill="#111" stroke="#111" stroke-width="0.3" textLength="45.08" lengthAdjust="spacing">absence</text>
<line x1="268.50" y1="570.50" x2="268.50" y2="592.50" stroke="#aaa" stroke-width="1.2"/>
<line x1="266.75" y1="570.50" x2="270.25" y2="570.50" stroke="#aaa" stroke-width="1"/>
<line x1="266.75" y1="592.50" x2="270.25" y2="592.50" stroke="#aaa" stroke-width="1"/>
<circle cx="268.50" cy="581.20" r="2.0" fill="#999"/>
<text transform="scale(0.95,1)" x="291.17" y="575.50" font-size="11.4" font-weight="normal" fill="#111" stroke="#111" stroke-width="0.3" textLength="63.50" lengthAdjust="spacing">Conspecific</text>
<text transform="scale(0.95,1)" x="291.00" y="591.10" font-size="11.4" font-weight="normal" fill="#111" stroke="#111" stroke-width="0.3" textLength="50.50" lengthAdjust="spacing">presence</text>
</svg>
</body></html>
